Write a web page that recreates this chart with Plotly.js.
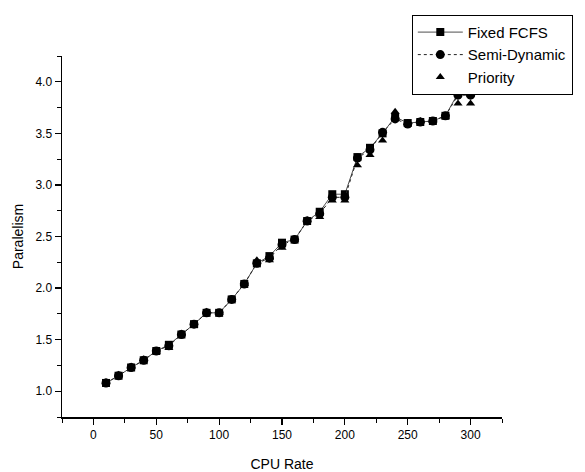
<!DOCTYPE html>
<html>
<head>
<meta charset="utf-8">
<script src="https://cdn.plot.ly/plotly-3.0.1.min.js"></script>
<style>html,body{margin:0;padding:0;background:#fff;}#chart{width:585px;height:472px;}</style>
</head>
<body>
<div id="chart"></div>
<script>
var cpuRate = [10,20,30,40,50,60,70,80,90,100,110,120,130,140,150,160,170,180,190,200,210,220,230,240,250,260,270,280,290,300];
var fixedFCFS = [1.08,1.15,1.23,1.30,1.39,1.45,1.55,1.65,1.76,1.76,1.89,2.04,2.24,2.31,2.44,2.47,2.65,2.74,2.91,2.91,3.27,3.36,3.50,3.66,3.60,3.61,3.62,3.67,3.89,3.89];
var semiDynamic = [1.08,1.15,1.23,1.30,1.39,1.44,1.55,1.65,1.76,1.76,1.89,2.04,2.24,2.29,2.42,2.47,2.65,2.72,2.88,2.88,3.26,3.34,3.51,3.64,3.59,3.61,3.62,3.67,3.87,3.87];
var priority = [1.09,1.16,1.24,1.31,1.38,1.42,1.56,1.64,1.77,1.76,1.89,2.04,2.27,2.27,2.39,2.47,2.66,2.69,2.85,2.85,3.19,3.29,3.43,3.71,3.60,3.62,3.62,3.66,3.79,3.79];
var seriesNames = ['Fixed FCFS','Semi-Dynamic','Priority'];

var traces = [
  {x: cpuRate, y: fixedFCFS, name: seriesNames[0], type: 'scatter', mode: 'lines+markers',
   line: {color: '#222', width: 0.8, dash: 'solid'},
   marker: {symbol: 'square', size: 8, color: '#000'}},
  {x: cpuRate, y: semiDynamic, name: seriesNames[1], type: 'scatter', mode: 'lines+markers',
   line: {color: '#222', width: 1, dash: 'dot'},
   marker: {symbol: 'circle', size: 9, color: '#000'}},
  {x: cpuRate, y: priority, name: seriesNames[2], type: 'scatter', mode: 'markers',
   marker: {symbol: 'triangle-up', size: 8, color: '#000'}}
];

var layout = {
  width: 585, height: 472,
  margin: {l: 62, r: 83, t: 56, b: 55},
  paper_bgcolor: '#fff', plot_bgcolor: '#fff',
  font: {family: 'Liberation Sans, Arial, sans-serif', color: '#000', size: 12},
  showlegend: true,
  legend: {x: 0.795, y: 1.114, xanchor: 'left', yanchor: 'top',
    bordercolor: '#000', borderwidth: 1, bgcolor: '#fff',
    font: {size: 15, color: '#000'}, itemwidth: 45, tracegroupgap: 0},
  xaxis: {
    range: [-25, 325], tickmode: 'linear', tick0: 0, dtick: 50,
    ticks: 'outside', ticklen: 6, tickwidth: 1.2, tickcolor: '#000',
    minor: {ticks: 'outside', dtick: 25, tick0: 0, ticklen: 4, tickcolor: '#000', tickwidth: 1},
    showline: true, linecolor: '#000', linewidth: 1.5, showgrid: false, zeroline: false,
    tickfont: {size: 12},
    title: {text: 'CPU Rate', font: {size: 14}, standoff: 18}
  },
  yaxis: {
    range: [0.75, 4.25], tickmode: 'linear', tick0: 1.0, dtick: 0.5, tickformat: '.1f',
    ticks: 'outside', ticklen: 6, tickwidth: 1.2, tickcolor: '#000',
    minor: {ticks: 'outside', dtick: 0.25, tick0: 0.75, ticklen: 4, tickcolor: '#000', tickwidth: 1},
    showline: true, linecolor: '#000', linewidth: 1.5, showgrid: false, zeroline: false,
    tickfont: {size: 12},
    title: {text: 'Paralelism', font: {size: 14}, standoff: 8}
  }
};

Plotly.newPlot('chart', traces, layout, {displayModeBar: false, staticPlot: true});
</script>
</body>
</html>
